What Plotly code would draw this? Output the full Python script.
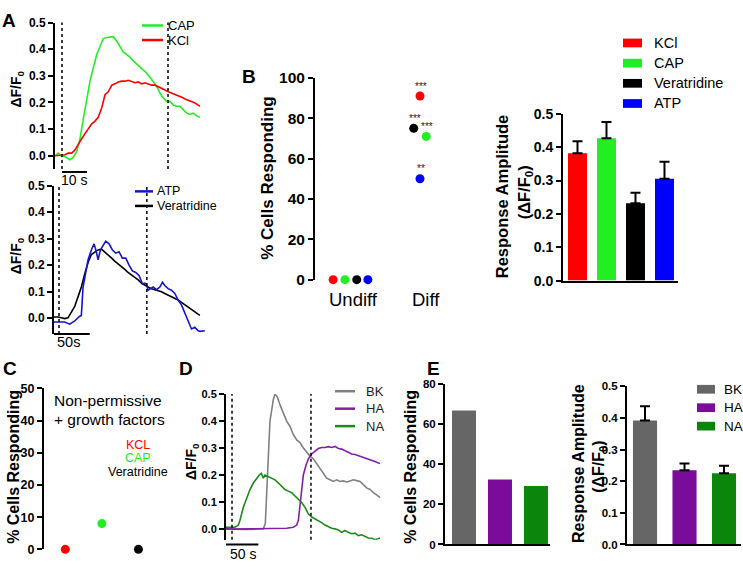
import plotly.graph_objects as go

# ---------------- data ----------------
# Panel A, top: CAP and KCl traces (time in s, dF/F0)
capTime = [0, 1.3, 2.7, 4.0, 6.0, 7.3, 8.7, 10.0, 11.3, 12.7, 14.0, 15.3, 16.7, 18.0, 19.3,
           20.7, 23.3, 24.7, 26.0, 27.3, 28.7, 30.0, 31.3, 32.7, 34.0, 35.3, 36.7, 38.0, 39.3,
           40.7, 42.0, 43.3, 44.7, 46.0, 47.3, 48.7, 50.0, 51.3, 52.7, 54.0, 55.3, 56.7, 58.0]
capDF = [0.0, 0.01, -0.003, -0.003, -0.015, -0.006, 0.016, 0.064, 0.137, 0.22, 0.28, 0.33,
         0.38, 0.41, 0.44, 0.444, 0.447, 0.43, 0.41, 0.39, 0.38, 0.37, 0.356, 0.344, 0.33, 0.32,
         0.31, 0.295, 0.277, 0.26, 0.235, 0.217, 0.204, 0.204, 0.19, 0.186, 0.186, 0.174, 0.16,
         0.155, 0.16, 0.15, 0.144]
kclTime = [0, 2.0, 4.0, 5.3, 6.7, 8.0, 9.3, 10.7, 12.0, 13.3, 14.7, 16.0, 17.3, 18.7, 20.0,
           21.3, 22.7, 24.0, 25.3, 26.7, 28.0, 29.3, 30.7, 32.0, 33.3, 34.7, 36.0, 37.3, 38.7,
           40.0, 41.3, 42.7, 44.0, 45.3, 46.7, 48.0, 49.3, 50.7, 52.0, 53.3, 54.7, 56.0, 57.3, 58.0]
kclDF = [0.0, 0.001, 0.004, 0.01, 0.01, 0.022, 0.04, 0.064, 0.083, 0.1, 0.12, 0.13, 0.144,
         0.18, 0.229, 0.24, 0.265, 0.27, 0.277, 0.28, 0.28, 0.283, 0.277, 0.274, 0.277, 0.27,
         0.274, 0.269, 0.265, 0.265, 0.26, 0.253, 0.247, 0.24, 0.235, 0.229, 0.225, 0.22, 0.213,
         0.208, 0.204, 0.198, 0.19, 0.186]

# Panel A, bottom: ATP and Veratridine traces
verTime = [0, 5.6, 10.3, 15.0, 19.6, 24.3, 29.0, 33.6, 38.3, 43.0, 47.7, 52.3, 57.0, 61.7,
           66.4, 71.0, 75.7, 80.4, 85.0, 89.7, 94.4, 99.1, 103.7, 108.4, 113.1, 117.8, 122.4,
           127.1, 131.8, 136.4, 141.1, 145.8, 150.5, 155.1, 159.8, 164.5, 169.2, 173.8, 178.5,
           183.2, 187.9, 192.5, 197.2, 204.2]
verDF = [0.004, 0.004, 0.001, -0.002, 0.001, 0.02, 0.044, 0.08, 0.117, 0.166, 0.21, 0.24, 0.25,
         0.257, 0.26, 0.25, 0.24, 0.227, 0.215, 0.205, 0.196, 0.184, 0.172, 0.163, 0.154, 0.144,
         0.132, 0.123, 0.117, 0.111, 0.107, 0.105, 0.099, 0.093, 0.087, 0.08, 0.074, 0.068,
         0.059, 0.05, 0.041, 0.034, 0.026, 0.01]
atpTime = [0, 5.6, 15.0, 22.0, 29.0, 36.0, 38.3, 40.7, 44.4, 47.7, 52.3, 56.1, 59.3, 61.7,
           65.0, 68.7, 72.4, 77.1, 81.8, 86.4, 91.1, 95.8, 100.5, 105.1, 109.8, 114.5, 119.2,
           123.8, 127.1, 129.5, 131.8, 135.1, 138.8, 143.5, 148.2, 151.9, 155.1, 159.8, 164.5,
           169.2, 173.8, 178.5, 183.2, 187.9, 192.5, 197.2, 201.9, 204.2, 211.2]
atpDF = [-0.015, -0.015, -0.015, -0.023, -0.011, 0.007, 0.01, 0.117, 0.178, 0.22, 0.257, 0.28,
         0.25, 0.22, 0.257, 0.276, 0.29, 0.28, 0.257, 0.245, 0.25, 0.226, 0.226, 0.2, 0.178,
         0.172, 0.16, 0.129, 0.132, 0.127, 0.105, 0.111, 0.117, 0.107, 0.117, 0.135, 0.123,
         0.111, 0.105, 0.093, 0.068, 0.05, 0.02, -0.017, -0.041, -0.035, -0.048, -0.05, -0.048]

# Panel B
agents = ["KCl", "CAP", "Veratridine", "ATP"]
pctUndiff = [0, 0, 0, 0]
pctDiff = [91, 71, 75, 50]
sigDiff = ["***", "***", "***", "**"]
ampMean = [0.382, 0.427, 0.232, 0.305]
ampSem = [0.036, 0.048, 0.031, 0.051]

# Panel C
npAgents = ["KCL", "CAP", "Veratridine"]
npPct = [0, 8, 0]

# Panel D: BK, HA, NA traces
bkTime = [0, 11.3, 26.8, 37.1, 47.4, 57.7, 60.8, 62.9, 65.5, 68.0, 70.6, 73.2, 75.8, 79.4,
          83.5, 88.7, 93.8, 99.0, 104.1, 109.3, 114.4, 119.6, 124.7, 129.9, 135.1, 140.2,
          145.4, 150.5, 155.7, 160.8, 166.0, 171.1, 176.3, 181.4, 186.6, 191.8, 196.9, 202.1,
          207.2, 212.4, 217.5, 222.7, 227.8, 233.0, 238.2]
bkDF = [0, -0.002, -0.002, -0.002, -0.002, 0.0, 0.02, 0.14, 0.32, 0.4, 0.44, 0.48, 0.5, 0.49,
        0.46, 0.43, 0.4, 0.38, 0.35, 0.33, 0.32, 0.3, 0.284, 0.27, 0.26, 0.242, 0.224, 0.206,
        0.188, 0.182, 0.176, 0.182, 0.176, 0.178, 0.174, 0.178, 0.182, 0.179, 0.176, 0.164,
        0.152, 0.146, 0.134, 0.126, 0.116]
haTime = [0, 11.3, 37.1, 62.9, 83.5, 93.8, 104.1, 109.3, 111.9, 114.4, 117.0, 119.6, 123.7,
          127.4, 132.5, 137.7, 142.8, 148.0, 153.1, 158.3, 163.5, 168.6, 173.8, 178.9, 184.1,
          189.2, 194.4, 199.5, 204.7, 209.8, 215.0, 220.1, 225.3, 230.4, 238.2]
haDF = [0, -0.001, 0, 0, 0, 0.002, 0.006, 0.014, 0.032, 0.08, 0.152, 0.2, 0.236, 0.26, 0.278,
        0.29, 0.298, 0.302, 0.302, 0.305, 0.302, 0.306, 0.298, 0.296, 0.29, 0.284, 0.278, 0.276,
        0.272, 0.266, 0.263, 0.26, 0.254, 0.25, 0.242]
naTime = [0, 8.8, 13.9, 19.1, 21.6, 26.8, 32.0, 37.1, 42.3, 47.4, 51.5, 54.6, 57.7, 60.3,
          65.5, 70.6, 75.8, 80.9, 86.1, 91.2, 96.4, 101.5, 106.7, 111.9, 117.0, 122.2, 127.3,
          132.5, 137.6, 142.8, 147.9, 153.1, 158.2, 163.4, 168.6, 173.7, 178.9, 184.0, 189.2,
          194.3, 199.5, 204.6, 209.8, 214.9, 220.1, 225.3, 230.4, 235.6, 238.2]
naDF = [0.006, 0.006, 0.006, 0.014, 0.032, 0.08, 0.116, 0.146, 0.17, 0.188, 0.2, 0.206, 0.188,
        0.2, 0.194, 0.19, 0.182, 0.17, 0.158, 0.146, 0.14, 0.134, 0.122, 0.11, 0.098, 0.08,
        0.056, 0.044, 0.038, 0.032, 0.023, 0.014, 0.008, 0.002, 0, -0.004, -0.013, -0.006,
        -0.013, -0.018, -0.016, -0.025, -0.022, -0.028, -0.034, -0.035, -0.04, -0.037, -0.034]

# Panel E
peptides = ["BK", "HA", "NA"]
peptidePct = [67, 32.5, 29.2]
peptideAmp = [0.392, 0.235, 0.225]
peptideSem = [0.045, 0.021, 0.024]

# ---------------- styling ----------------
W, H = 743, 568
FONT = "Liberation Sans, Arial, sans-serif"
RED, GREEN, BLACK, BLUE = "#ff0000", "#22ee22", "#000000", "#0000ff"
agentColors = [RED, GREEN, BLACK, BLUE]
traceGray, tracePurple, traceGreen = "#808080", "#8020a8", "#1a8c1a"
barGray, barPurple, barGreen = "#666666", "#7b0b9b", "#0b860b"

# dot offsets inside each group of panel B (x units)
undiffOffset = [-0.25, -0.08, 0.09, 0.25]
diffOffset = [0, 0.09, -0.09, 0]


def dom_x(a, b):
    return [a / W, b / W]


def dom_y(top, bottom):
    return [1 - bottom / H, 1 - top / H]


def yaxis_style(domain, rng, dtick, size, fmt=None, anchor="x"):
    d = dict(domain=domain, range=rng, dtick=dtick, tick0=0, anchor=anchor,
             showline=True, linecolor="black", linewidth=2, ticks="outside",
             ticklen=5, tickwidth=2, tickcolor="black", showgrid=False, zeroline=False,
             tickfont=dict(family=FONT, size=size, color="black", weight="bold"))
    if fmt:
        d["tickformat"] = fmt
    return d


def hidden_x(domain, rng, anchor):
    return dict(domain=domain, range=rng, visible=False, anchor=anchor)


def bar_x(domain, rng, anchor):
    return dict(domain=domain, range=rng, anchor=anchor, showline=True, linecolor="black",
                linewidth=2, ticks="", showticklabels=False, showgrid=False, zeroline=False)


fig = go.Figure()

# A top
fig.add_trace(go.Scatter(x=capTime, y=capDF, mode="lines", line=dict(color=GREEN, width=1.6),
                         xaxis="x", yaxis="y"))
fig.add_trace(go.Scatter(x=kclTime, y=kclDF, mode="lines", line=dict(color=RED, width=1.6),
                         xaxis="x", yaxis="y"))
# A bottom
fig.add_trace(go.Scatter(x=verTime, y=verDF, mode="lines", line=dict(color=BLACK, width=1.6),
                         xaxis="x2", yaxis="y2"))
fig.add_trace(go.Scatter(x=atpTime, y=atpDF, mode="lines", line=dict(color="#1515d0", width=1.6),
                         xaxis="x2", yaxis="y2"))

# B dots
for i, name in enumerate(agents):
    fig.add_trace(go.Scatter(x=[1 + undiffOffset[i], 2 + diffOffset[i]],
                             y=[pctUndiff[i], pctDiff[i]], mode="markers",
                             marker=dict(color=agentColors[i], size=9), cliponaxis=False,
                             xaxis="x3", yaxis="y3", name=name))
# B bars
fig.add_trace(go.Bar(x=list(range(len(agents))), y=ampMean, width=0.655,
                     marker=dict(color=agentColors, line=dict(width=0)),
                     error_y=dict(type="data", array=ampSem, arrayminus=[0] * len(agents),
                                  symmetric=False, color="black", thickness=2, width=5),
                     xaxis="x4", yaxis="y4"))

# C dots
fig.add_trace(go.Scatter(x=list(range(len(npAgents))), y=npPct, mode="markers",
                         marker=dict(color=[RED, GREEN, BLACK], size=9), cliponaxis=False,
                         xaxis="x5", yaxis="y5"))

# D traces
for t, v, c in [(bkTime, bkDF, traceGray), (haTime, haDF, tracePurple), (naTime, naDF, traceGreen)]:
    fig.add_trace(go.Scatter(x=t, y=v, mode="lines", line=dict(color=c, width=1.6),
                             xaxis="x6", yaxis="y6"))

# E bars
peptideColors = [barGray, barPurple, barGreen]
fig.add_trace(go.Bar(x=list(range(3)), y=peptidePct, width=0.667,
                     marker=dict(color=peptideColors, line=dict(width=0)),
                     xaxis="x7", yaxis="y7"))
fig.add_trace(go.Bar(x=list(range(3)), y=peptideAmp, width=0.61,
                     marker=dict(color=peptideColors, line=dict(width=0)),
                     error_y=dict(type="data", array=peptideSem, arrayminus=[0, 0, 0],
                                  symmetric=False, color="black", thickness=2, width=5),
                     xaxis="x8", yaxis="y8"))

# ---------------- annotations & shapes ----------------
ann = []
shapes = []


def note(x, y, text, size, bold=False, color="black", xanchor="center", angle=0,
         xref="paper", yref="paper"):
    ann.append(dict(x=x / W if xref == "paper" else x, y=1 - y / H if yref == "paper" else y,
                    xref=xref, yref=yref, text=text, showarrow=False, textangle=angle,
                    xanchor=xanchor, yanchor="middle",
                    font=dict(family=FONT, size=size, color=color,
                              weight="bold" if bold else "normal")))


def line_key(x0, x1, y, color, width=2.5):
    shapes.append(dict(type="line", xref="paper", yref="paper", x0=x0 / W, x1=x1 / W,
                       y0=1 - y / H, y1=1 - y / H, line=dict(color=color, width=width)))


def box_key(x0, x1, y, color, h=9):
    shapes.append(dict(type="rect", xref="paper", yref="paper", x0=x0 / W, x1=x1 / W,
                       y0=1 - (y + h / 2) / H, y1=1 - (y - h / 2) / H,
                       fillcolor=color, line=dict(width=0)))


def dotted(xref, yref, t):
    shapes.append(dict(type="line", xref=xref, yref=yref + " domain", x0=t, x1=t, y0=0, y1=1,
                       line=dict(color="black", width=1.5, dash="dot")))


def scalebar(xref, t0, t1, y):
    shapes.append(dict(type="line", xref=xref, yref="paper", x0=t0, x1=t1,
                       y0=1 - y / H, y1=1 - y / H, line=dict(color="black", width=2)))


DF = "ΔF/F<sub>0</sub>"

# panel letters
for letter, (x, y) in {"A": (9, 12), "B": (249, 70), "C": (10, 371), "D": (186, 371),
                       "E": (433, 371)}.items():
    note(x, y, letter, 19, bold=True)

# A
note(17, 83, DF, 14, bold=True, angle=-90)
note(17, 255, DF, 14, bold=True, angle=-90)
dotted("x", "y", 2.8)
dotted("x", "y", 45.2)
scalebar("x", 2.8, 12.8, 168)
note(74, 176, "10 s", 14)
dotted("x2", "y2", 7)
dotted("x2", "y2", 130)
scalebar("x2", 0, 50, 335)
note(68, 343, "50s", 14.5)
line_key(142, 163, 17, GREEN)
note(166, 17, "CAP", 13, xanchor="left")
line_key(142, 163, 32, RED)
note(166, 32, "KCl", 13, xanchor="left")
line_key(135, 153, 188, "#1515d0")
note(155, 188, "ATP", 12.5, xanchor="left")
line_key(135, 153, 203, BLACK)
note(155, 203, "Veratridine", 12.5, xanchor="left")

# B
note(268, 175, "% Cells Responding", 17, bold=True, angle=-90)
note(353, 299, "Undiff", 18.5)
note(426, 299, "Diff", 18.5)
for i, s in enumerate(sigDiff):
    ann.append(dict(x=2 + diffOffset[i], y=pctDiff[i], xref="x3", yref="y3", text=s,
                    showarrow=False, yshift=10, xshift=1,
                    font=dict(family=FONT, size=10, color="#222222")))
note(502, 193, "Response Amplitude", 16.5, bold=True, angle=-90)
note(525, 189, "(" + DF + ")", 16.5, bold=True, angle=-90)
for i, name in enumerate(agents):
    box_key(623, 642, 35 + 20.8 * i, agentColors[i])
    note(652, 35 + 20.8 * i, name, 14.5, xanchor="left")

# C
note(14, 472, "% Cells Responding", 16, bold=True, angle=-90)
note(52, 404, "Non-permissive", 15.5, xanchor="left")
note(52, 423, "+ growth factors", 15.5, xanchor="left")
for i, (name, c) in enumerate(zip(npAgents, [RED, GREEN, BLACK])):
    note(138, 449.5 + 13.8 * i, name, 12.5, color=c)

# D
note(192, 467, DF, 14, bold=True, angle=-90)
dotted("x6", "y6", 9.3)
dotted("x6", "y6", 131.4)
scalebar("x6", 0, 50, 552)
note(243, 562, "50 s", 14)
for i, (name, c) in enumerate(zip(peptides, [traceGray, tracePurple, traceGreen])):
    line_key(335, 355, 394 + 18 * i, c)
    note(364, 394 + 18 * i, name, 13, color="#222222", xanchor="left")

# E
note(411, 472, "% Cells Responding", 16, bold=True, angle=-90)
note(579, 469, "Response Amplitude", 16, bold=True, angle=-90)
note(600, 472, "(" + DF + ")", 16, bold=True, angle=-90)
for i, name in enumerate(peptides):
    box_key(697, 715, 392 + 19 * i, peptideColors[i])
    note(722, 392 + 19 * i, name, 13.5, xanchor="left")

fig.update_layout(
    width=W, height=H, margin=dict(l=0, r=0, t=0, b=0),
    paper_bgcolor="white", plot_bgcolor="white", showlegend=False,
    font=dict(family=FONT, color="black"),
    xaxis=hidden_x(dom_x(55, 201), [0, 58.4], "y"),
    yaxis=yaxis_style(dom_y(14, 165), [-0.05, 0.5], 0.1, 12, ".1f", "x"),
    xaxis2=hidden_x(dom_x(54, 205.4), [0, 212], "y2"),
    yaxis2=yaxis_style(dom_y(182, 335), [-0.06, 0.5], 0.1, 12, ".1f", "x2"),
    xaxis3=hidden_x(dom_x(315, 440), [0.489, 2.288], "y3"),
    yaxis3=yaxis_style(dom_y(71, 279), [0, 100], 20, 15.5, None, "x3"),
    xaxis4=bar_x(dom_x(563, 678), [-0.5, 3.466], "y4"),
    yaxis4=yaxis_style(dom_y(108, 280), [0, 0.5], 0.1, 14, ".1f", "x4"),
    xaxis5=hidden_x(dom_x(44, 175), [-0.583, 3.0], "y5"),
    yaxis5=yaxis_style(dom_y(391, 557), [0, 50], 10, 12.5, None, "x5"),
    xaxis6=hidden_x(dom_x(226, 381.2), [0, 240], "y6"),
    yaxis6=yaxis_style(dom_y(397, 547), [-0.04, 0.5], 0.1, 11, ".1f", "x6"),
    xaxis7=bar_x(dom_x(445, 550), [-0.528, 2.39], "y7"),
    yaxis7=yaxis_style(dom_y(387, 552), [0, 80], 20, 11.5, None, "x7"),
    xaxis8=bar_x(dom_x(627, 741), [-0.456, 2.43], "y8"),
    yaxis8=yaxis_style(dom_y(389, 552), [0, 0.5], 0.1, 11.5, ".1f", "x8"),
    annotations=ann, shapes=shapes,
)

fig.write_html("out.html", config={"displayModeBar": False},
               post_script="document.body.style.margin='0';")
